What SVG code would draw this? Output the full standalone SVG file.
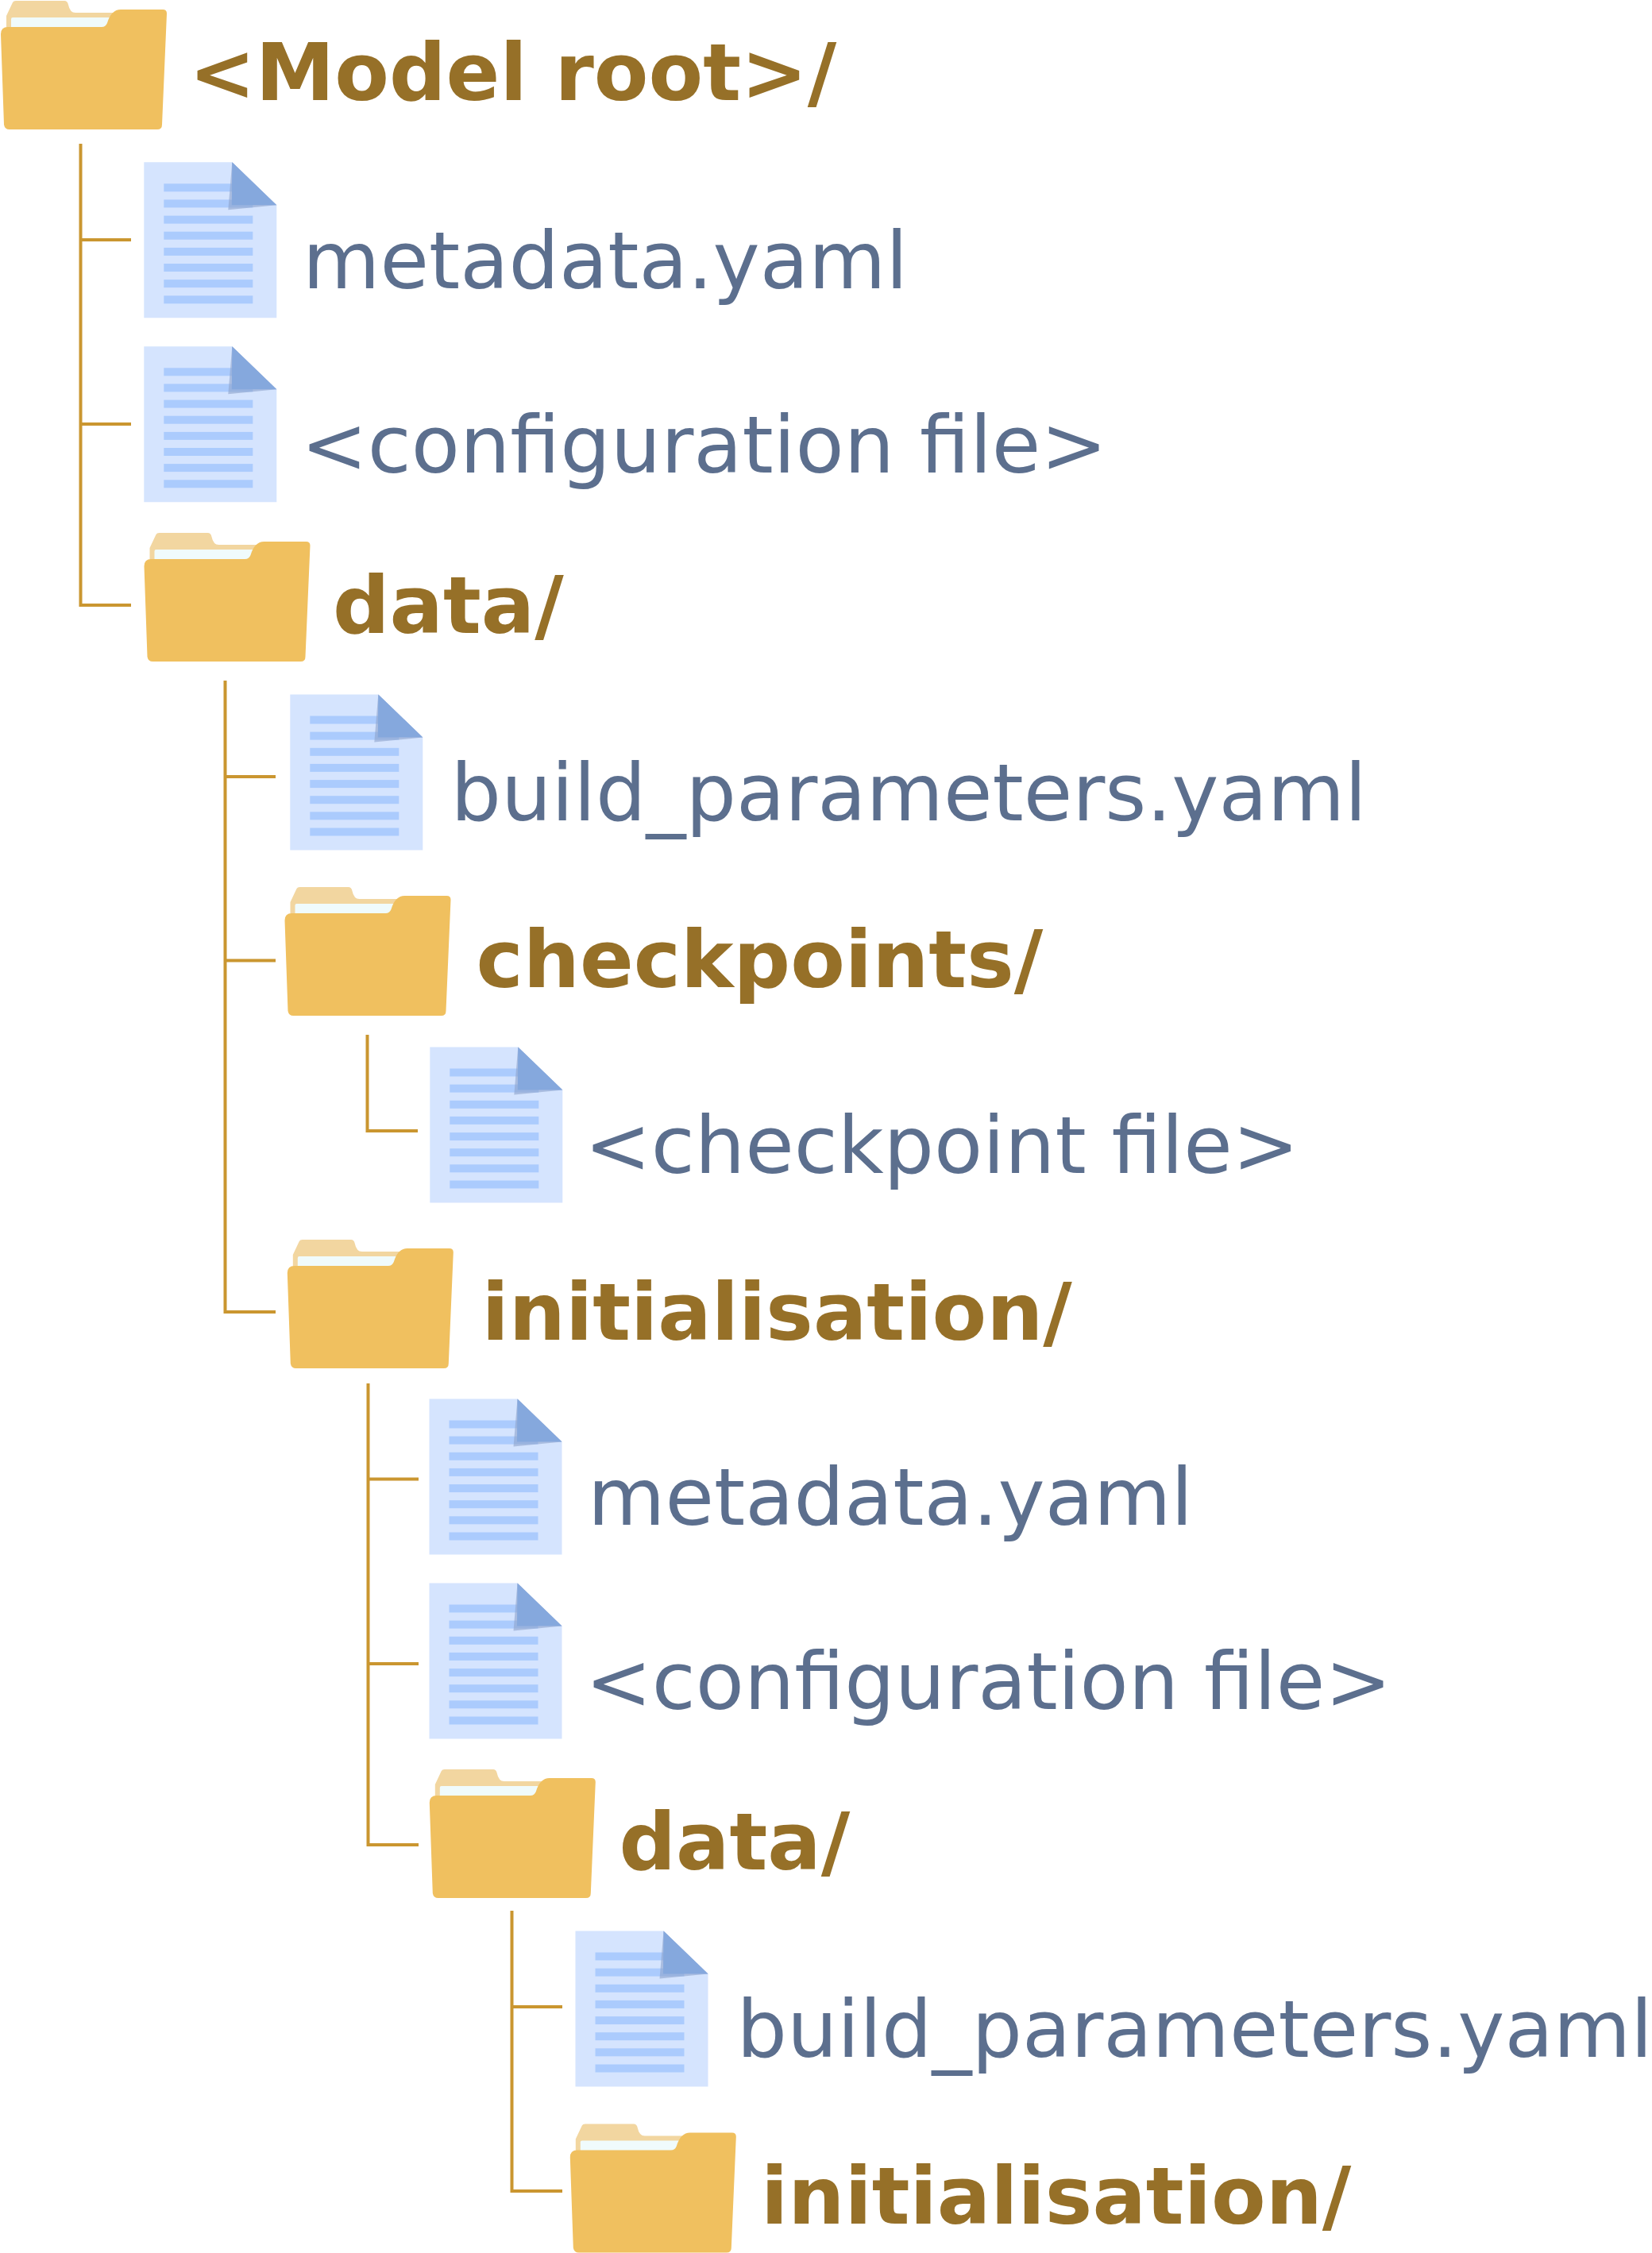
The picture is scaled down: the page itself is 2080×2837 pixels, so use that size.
<svg xmlns="http://www.w3.org/2000/svg" xmlns:xlink="http://www.w3.org/1999/xlink" width="2080" height="2837" viewBox="0 0 2080 2837">
<style>
.d{font:bold 100px "DejaVu Sans",sans-serif;fill:#967028}
.f{font:100px "DejaVu Sans",sans-serif;fill:#5c6f8e}
.c{fill:none;stroke:#ca9630;stroke-width:4}
</style>
<defs>
<g id="folder">
<path d="M8,38V20L16,3Q17,1 20,1H81Q85,1 86,6Q88,16 95,16H150V40H8Z" fill="#f2d6a0"/>
<path d="M14,24Q14,22 16,22H140V36H14Z" fill="#f0fbfc"/>
<path d="M1,43Q1,34 10,34H128Q133,34 135,29Q140,12 152,12H205Q210,12 210,17L204,157Q204,163 198,163H12Q6,163 5,157Z" fill="#f0c05f"/>
</g>
<g id="file">
<path d="M0,0H111L167,54V196H0Z" fill="#d5e4fe"/>
<g fill="#abcbfd">
<rect x="25" y="27" width="112" height="10"/><rect x="25" y="47.1" width="112" height="10"/><rect x="25" y="67.3" width="112" height="10"/><rect x="25" y="87.4" width="112" height="10"/><rect x="25" y="107.6" width="112" height="10"/><rect x="25" y="127.7" width="112" height="10"/><rect x="25" y="147.8" width="112" height="10"/><rect x="25" y="168" width="112" height="10"/>
</g>
<path d="M111,0L106,60L167,54Z" fill="#8ea4cc" fill-opacity=".6"/>
<path d="M111,0L110.5,54H167Z" fill="#85a8dd"/>
</g>
</defs>
<g id="connectors">
<path class="c" d="M101.5,181V762H165M101.5,302H165M101.5,534H165"/>
<path class="c" d="M283.5,857V1652H347M283.5,978H347M283.5,1209.5H347"/>
<path class="c" d="M462.5,1303V1424H526"/>
<path class="c" d="M463.5,1742V2323H527M463.5,1862.5H527M463.5,2095H527"/>
<path class="c" d="M644.5,2406V2759H708M644.5,2527H708"/>
</g>
<g id="root"><use href="#folder" x="0" y="0"/><text class="d" x="238" y="126">&lt;Model root&gt;/</text></g>
<g id="metadata1"><use href="#file" x="181.3" y="204.3"/><text class="f" x="381" y="363">metadata.yaml</text></g>
<g id="config1"><use href="#file" x="181.3" y="436.3"/><text class="f" x="379" y="595">&lt;configuration file&gt;</text></g>
<g id="data1"><use href="#folder" x="180.5" y="670"/><text class="d" x="419" y="797">data/</text></g>
<g id="build1"><use href="#file" x="365.3" y="874.5"/><text class="f" x="567.5" y="1033">build_parameters.yaml</text></g>
<g id="checkpoints"><use href="#folder" x="357.5" y="1116"/><text class="d" x="599.5" y="1243">checkpoints/</text></g>
<g id="checkpointfile"><use href="#file" x="541.3" y="1318.5"/><text class="f" x="736" y="1477">&lt;checkpoint file&gt;</text></g>
<g id="init1"><use href="#folder" x="360.8" y="1560"/><text class="d" x="606.5" y="1687">initialisation/</text></g>
<g id="metadata2"><use href="#file" x="540.5" y="1761.5"/><text class="f" x="740" y="1920">metadata.yaml</text></g>
<g id="config2"><use href="#file" x="540.5" y="1993.5"/><text class="f" x="737" y="2152">&lt;configuration file&gt;</text></g>
<g id="data2"><use href="#folder" x="539.8" y="2227"/><text class="d" x="779.5" y="2354">data/</text></g>
<g id="build2"><use href="#file" x="724.5" y="2431.5"/><text class="f" x="927.5" y="2590">build_parameters.yaml</text></g>
<g id="init2"><use href="#folder" x="716.8" y="2673.5"/><text class="d" x="958" y="2800">initialisation/</text></g>
</svg>
